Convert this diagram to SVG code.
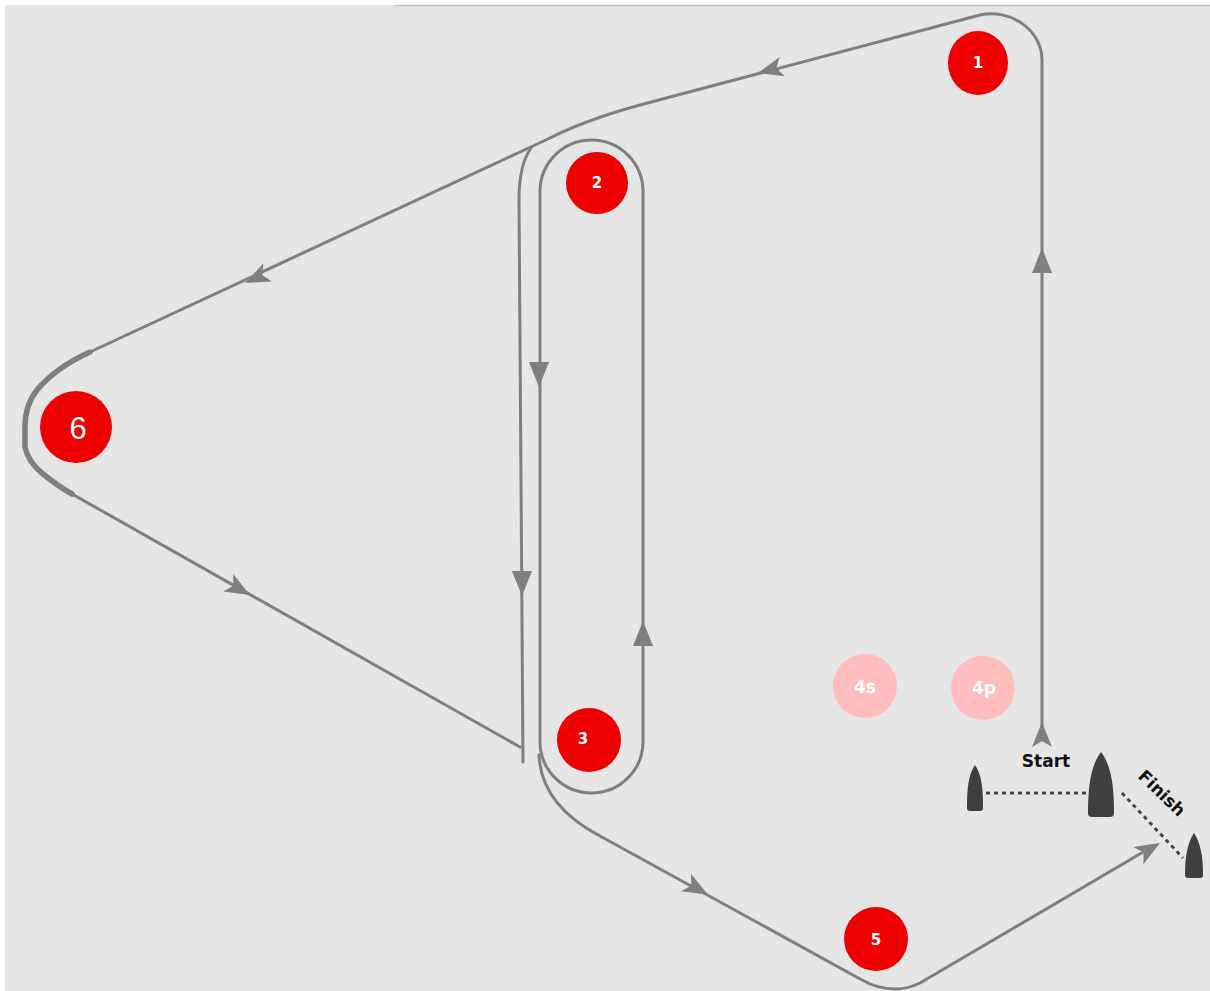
<svg xmlns="http://www.w3.org/2000/svg" xmlns:xlink="http://www.w3.org/1999/xlink" width="1210" height="991" viewBox="0 0 1210 991">
<style>
.ln{fill:none;stroke:#7f7f7f;stroke-width:3;stroke-linejoin:round;stroke-linecap:round}
.thick{fill:none;stroke:#7f7f7f;stroke-width:5.5;stroke-linecap:round;stroke-linejoin:round}
.ah{fill:#7f7f7f}
.mark{fill:#ec0000}
.mark4{fill:#ffbdbd}
.lbl{font-family:"DejaVu Sans",sans-serif;font-weight:bold;fill:#ffffff;text-anchor:middle;dominant-baseline:central}
.boat{fill:#3f3f3f}
.dot{fill:none;stroke:#444444;stroke-width:3;stroke-dasharray:4 4}
.cap{font-family:"DejaVu Sans",sans-serif;font-weight:bold;font-size:17px;fill:#111111;text-anchor:middle}
</style>
<defs>
<path id="tri" d="M0 0 L-25 -10 L-25 10 Z"/>
<path id="trin" d="M0 0 L-25 -10 L-19 0 L-25 10 Z"/>
</defs>
<rect x="0" y="0" width="1210" height="991" fill="#ffffff"/>
<rect x="5" y="5" width="1205" height="986" fill="#e6e6e6"/>
<line x1="395" y1="5.5" x2="1210" y2="5.5" stroke="#c4c4c4" stroke-width="1.5"/>

<g id="connectors">
  <path class="ln" d="M1042 740 L1042 60 C1042 30 1010 8 980 15 L640 105 Q585 120 548 139 L90 352"/>
  <path class="thick" d="M90 352 Q55 368 37 390 Q25 405 25 427 L25 447 Q28 462 43 474 Q58 486 72 494"/>
  <path class="ln" d="M72 494 L520 747"/>
  <path class="ln" d="M531 148 Q519 165 519 200 L523 762"/>
  <rect class="ln" x="540" y="140" width="103" height="653" rx="51.5" ry="51.5"/>
  <path class="ln" d="M539 755 Q541 805 600 836 L862 980 Q878 989 895 989 Q908 989 920 983 L1150 848"/>
  <use class="ah" xlink:href="#trin" transform="translate(1042 722) rotate(-90)"/>
  <use class="ah" xlink:href="#tri" transform="translate(1042 248) rotate(-90)"/>
  <use class="ah" xlink:href="#trin" transform="translate(758 73) rotate(165.3)"/>
  <use class="ah" xlink:href="#trin" transform="translate(245 283) rotate(155)"/>
  <use class="ah" xlink:href="#trin" transform="translate(250 595) rotate(29.5)"/>
  <use class="ah" xlink:href="#tri" transform="translate(539 387) rotate(90)"/>
  <use class="ah" xlink:href="#tri" transform="translate(522 596) rotate(90)"/>
  <use class="ah" xlink:href="#tri" transform="translate(643 621) rotate(-90)"/>
  <use class="ah" xlink:href="#trin" transform="translate(708 894.7) rotate(29)"/>
  <use class="ah" xlink:href="#trin" transform="translate(1160 843) rotate(-30.3)"/>
</g>

<g id="mark1"><ellipse class="mark" cx="978" cy="63" rx="30" ry="32"/><text class="lbl" x="978" y="63" font-size="15">1</text></g>
<g id="mark2"><circle class="mark" cx="597" cy="183" r="31"/><text class="lbl" x="597" y="183" font-size="15">2</text></g>
<g id="mark3"><circle class="mark" cx="589" cy="740" r="32"/><text class="lbl" x="583" y="739" font-size="15">3</text></g>
<g id="mark5"><circle class="mark" cx="876" cy="939" r="32"/><text class="lbl" x="876" y="940" font-size="15">5</text></g>
<g id="mark6"><circle class="mark" cx="76" cy="427" r="36"/><text x="78" y="428" font-family="Liberation Sans, sans-serif" font-size="31" fill="#ffffff" text-anchor="middle" dominant-baseline="central">6</text></g>
<g id="mark4s"><circle class="mark4" cx="865" cy="686" r="32"/><text class="lbl" x="865" y="687" font-size="17">4s</text></g>
<g id="mark4p"><circle class="mark4" cx="983" cy="688" r="32"/><text class="lbl" x="984" y="688" font-size="17">4p</text></g>

<g id="start">
  <path class="dot" d="M986 793 L1087 793"/>
  <path class="boat" d="M975 765 C982 775 983 790 983 808 Q983 811 980 811 L970 811 Q967 811 967 808 C967 790 968 775 975 765 Z"/>
  <path class="boat" d="M1101 752 C1111 765 1114 785 1114 813 Q1114 817 1110 817 L1092 817 Q1088 817 1088 813 C1088 785 1091 765 1101 752 Z"/>
  <text class="cap" x="1046" y="767">Start</text>
</g>
<g id="finish">
  <path class="dot" d="M1122 793 L1183 858"/>
  <path class="boat" d="M1194 833 C1200 842 1203 855 1203 875 Q1203 878 1200 878 L1188 878 Q1185 878 1185 875 C1185 855 1188 842 1194 833 Z"/>
  <text class="cap" transform="translate(1162 793) rotate(44)" x="0" y="6">Finish</text>
</g>
</svg>
